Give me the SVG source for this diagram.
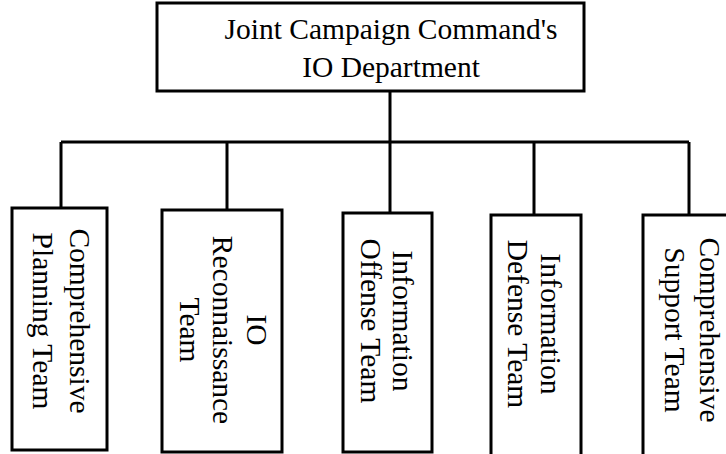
<svg xmlns="http://www.w3.org/2000/svg" width="726" height="454" viewBox="0 0 726 454">
<style>
.box{fill:#fff;stroke:#000;stroke-width:3}
.ln{fill:none;stroke:#000;stroke-width:3}
text{font-family:"Liberation Serif","Times New Roman",serif;font-size:29.5px;fill:#000;text-anchor:middle}
</style>
<rect width="726" height="454" fill="#fff"/>
<g id="connectors">
<path class="ln" d="M390,91 V142 M61,142 H689 M61,142 V208 M227,142 V210 M390,142 V213 M534,142 V215 M689,142 V215"/>
</g>
<g id="top">
<rect class="box" x="157" y="3" width="427" height="88"/>
<text x="391" y="39">Joint Campaign Command's</text>
<text x="391" y="77">IO Department</text>
</g>
<g id="planning">
<rect class="box" x="12" y="208" width="95" height="242"/>
<text transform="translate(70,321) rotate(90)"><tspan x="0" y="0">Comprehensive</tspan><tspan x="0" dy="37">Planning Team</tspan></text>
</g>
<g id="recon">
<rect class="box" x="162" y="210" width="120" height="242"/>
<text transform="translate(247,330) rotate(90)"><tspan x="0" y="0">IO</tspan><tspan x="0" dy="34">Reconnaissance</tspan><tspan x="0" dy="33">Team</tspan></text>
</g>
<g id="offense">
<rect class="box" x="343" y="213" width="89" height="239"/>
<text transform="translate(393,321) rotate(90)"><tspan x="0" y="0">Information</tspan><tspan x="0" dy="32">Offense Team</tspan></text>
</g>
<g id="defense">
<rect class="box" x="491" y="215" width="90" height="245"/>
<text transform="translate(541,324) rotate(90)"><tspan x="0" y="0">Information</tspan><tspan x="0" dy="33">Defense Team</tspan></text>
</g>
<g id="support">
<rect class="box" x="643" y="215" width="95" height="245"/>
<text transform="translate(700,330) rotate(90)"><tspan x="0" y="0">Comprehensive</tspan><tspan x="0" dy="35">Support Team</tspan></text>
</g>
</svg>
